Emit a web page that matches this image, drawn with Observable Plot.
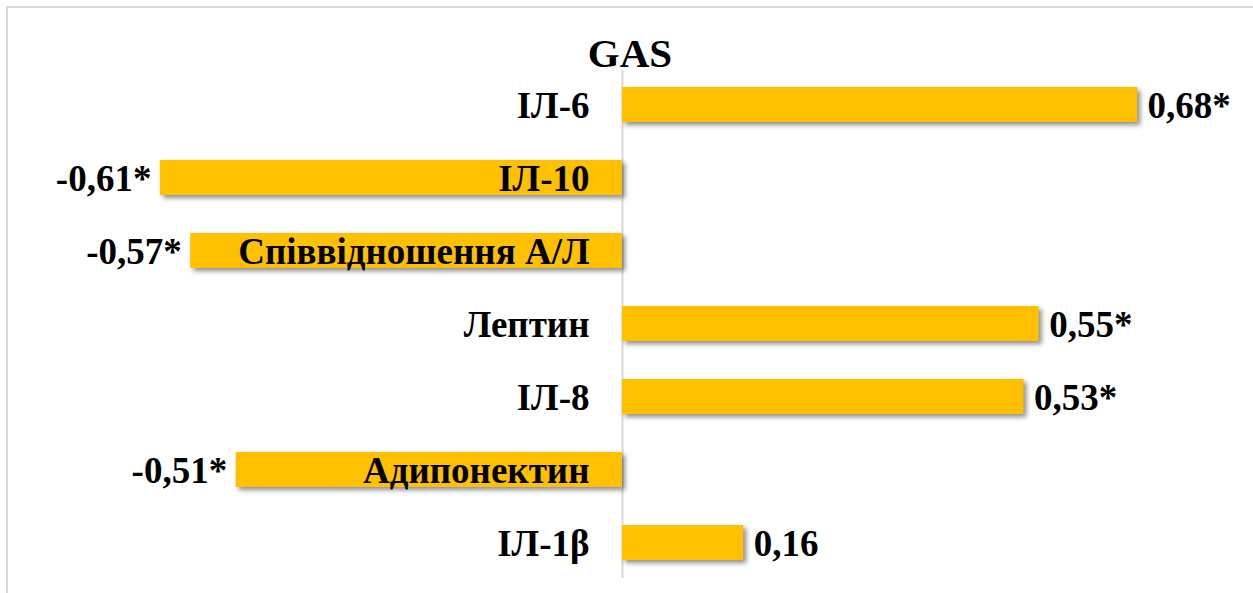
<!DOCTYPE html>
<html>
<head>
<meta charset="utf-8">
<script src="https://cdn.jsdelivr.net/npm/d3@7"></script>
<script src="https://cdn.jsdelivr.net/npm/@observablehq/plot@0.6"></script>
<style>
  html, body { margin: 0; padding: 0; background: #fff; }
  #chart {
    position: relative;
    width: 1253px;
    height: 593px;
    overflow: hidden;
    font-family: "Liberation Serif", "Times New Roman", serif;
  }
  #frame {
    position: absolute;
    left: 6px; top: 6px;
    width: 1300px; height: 700px;
    border-left: 2px solid #d9d9d9;
    border-top: 2px solid #d9d9d9;
    box-sizing: border-box;
    pointer-events: none;
  }
  #title {
    position: absolute;
    left: 0; width: 1260px; top: 30px;
    text-align: center;
    font-weight: bold;
    font-size: 41px;
    line-height: 46px;
    color: #000;
  }
  #chart svg { position: absolute; left: 0; top: 0; }
  #chart svg g[aria-label="bar"] {
    filter: drop-shadow(3px 3px 2.5px rgba(0, 0, 0, 0.45));
  }
</style>
</head>
<body>
<div id="chart">
  <div id="frame"></div>
  <div id="title">GAS</div>
</div>
<script>
// Correlation of GAS with adipokines and cytokines
const indicators = ["ІЛ-6", "ІЛ-10", "Співвідношення А/Л", "Лептин", "ІЛ-8", "Адипонектин", "ІЛ-1β"];
const coefficients = [0.68, -0.61, -0.57, 0.55, 0.53, -0.51, 0.16];
const valueLabels = ["0,68*", "-0,61*", "-0,57*", "0,55*", "0,53*", "-0,51*", "0,16"];

const rows = indicators.map((name, i) => ({
  name,
  value: coefficients[i],
  label: valueLabels[i]
}));

const font = 37;

const plot = Plot.plot({
  width: 1253,
  height: 593,
  marginLeft: 16,
  marginRight: 25,
  marginTop: 79,
  marginBottom: 25,
  style: {
    fontFamily: "'Liberation Serif', 'Times New Roman', serif",
    background: "transparent",
    overflow: "visible"
  },
  x: { domain: [-0.8, 0.8], axis: null },
  y: { domain: indicators, axis: null, paddingInner: 0.52, paddingOuter: 0.1 },
  marks: [
    Plot.ruleX([0], { stroke: "#d9d9d9", strokeWidth: 2, insetTop: -9, insetBottom: -10 }),
    Plot.barX(rows, { x: "value", y: "name", fill: "#ffc000" }),
    // indicator names sit against the zero line
    Plot.text(rows, {
      x: 0, y: "name", text: "name",
      textAnchor: "end", dx: -33, dy: 1,
      fontSize: font, fontWeight: "bold", fill: "#000"
    }),
    // coefficient labels at the outer end of each bar
    Plot.text(rows.filter(d => d.value >= 0), {
      x: "value", y: "name", text: "label",
      textAnchor: "start", dx: 10, dy: 1,
      fontSize: font, fontWeight: "bold", fill: "#000"
    }),
    Plot.text(rows.filter(d => d.value < 0), {
      x: "value", y: "name", text: "label",
      textAnchor: "end", dx: -9, dy: 1,
      fontSize: font, fontWeight: "bold", fill: "#000"
    })
  ]
});

document.getElementById("chart").appendChild(plot);
</script>
</body>
</html>
